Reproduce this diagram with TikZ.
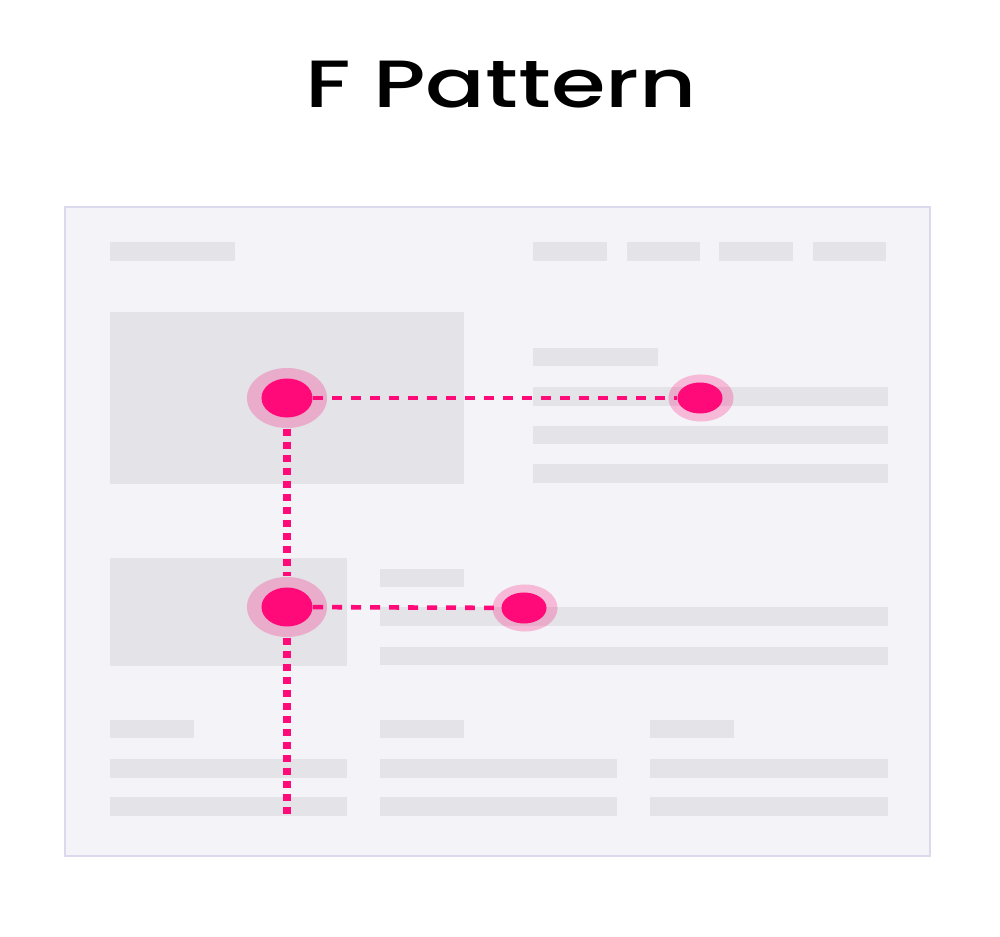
\documentclass[tikz,border=0pt]{standalone}
\usepackage{fontspec}
\usetikzlibrary{shapes.geometric}
\newfontfamily\titlefont{Poppins}[UprightFont=*-Medium]
\definecolor{pagebg}{HTML}{F4F4F8}
\definecolor{pageedge}{HTML}{DADAEC}
\definecolor{block}{HTML}{E3E3E8}
\definecolor{hot}{HTML}{FF0A78}
\begin{document}
\begin{tikzpicture}[x=0.01cm,y=-0.01cm,
  bar/.style={fill=block,draw=none},
  halo/.style={ellipse,fill=hot,fill opacity=0.25,draw=none,inner sep=0pt},
  dot/.style={ellipse,fill=hot,draw=none,inner sep=0pt},
  bigdot/.style={dot,minimum width=0.51cm,minimum height=0.39cm},
  smalldot/.style={dot,minimum width=0.45cm,minimum height=0.31cm},
  bighalo/.style={halo,minimum width=0.80cm,minimum height=0.60cm},
  smallhalo/.style={halo,minimum width=0.65cm,minimum height=0.47cm},
  hpath/.style={draw=hot,line width=1.3pt,dash pattern=on 2.8pt off 2.6pt},
  vpath/.style={draw=hot,line width=2pt,dash pattern=on 2pt off 1.7pt}]
\useasboundingbox (0,0) rectangle (1000,937);
% title
\node (title) at (501,85) {\scalebox{1.32}[1]{\titlefont\fontsize{19}{19}\selectfont F Pattern}};
% page frame
\filldraw[fill=pagebg,draw=pageedge,line width=0.8pt] (65,207) rectangle (930,856);
% header: logo and navigation
\fill[bar] (110,242) rectangle (235,261);
\fill[bar] (533,242) rectangle (607,261);
\fill[bar] (627,242) rectangle (700,261);
\fill[bar] (719,242) rectangle (793,261);
\fill[bar] (813,242) rectangle (886,261);
% hero section
\fill[bar] (110,312) rectangle (464,484);
\fill[bar] (533,348) rectangle (658,366);
\fill[bar] (533,387) rectangle (888,406);
\fill[bar] (533,426) rectangle (888,444);
\fill[bar] (533,464) rectangle (888,483);
% second section
\fill[bar] (110,558) rectangle (347,666);
\fill[bar] (380,569) rectangle (464,587);
\fill[bar] (380,607) rectangle (888,626);
\fill[bar] (380,647) rectangle (888,665);
% three columns
\foreach \x/\w in {110/237,380/237,650/238}{
  \fill[bar] (\x,720) rectangle ++(84,18);
  \fill[bar] (\x,759) rectangle ++(\w,19);
  \fill[bar] (\x,797) rectangle ++(\w,19);
}
% fixation halos
\node[bighalo] (h1) at (287,398) {};
\node[smallhalo] (h2) at (701,398) {};
\node[bighalo] (h3) at (287,607) {};
\node[smallhalo] (h4) at (525,608) {};
% fixation points
\node[bigdot] (d1) at (287,398) {};
\node[smalldot] (d2) at (700,398) {};
\node[bigdot] (d3) at (287,607) {};
\node[smalldot] (d4) at (524,608) {};
\coordinate (vend) at (287,819);
% scan paths
\draw[hpath] (d1) -- (d2);
\draw[hpath] (d3) -- (d4);
\draw[vpath] (h1.south) -- (h3.north);
\draw[vpath] (h3.south) -- (vend);
\end{tikzpicture}
\end{document}
